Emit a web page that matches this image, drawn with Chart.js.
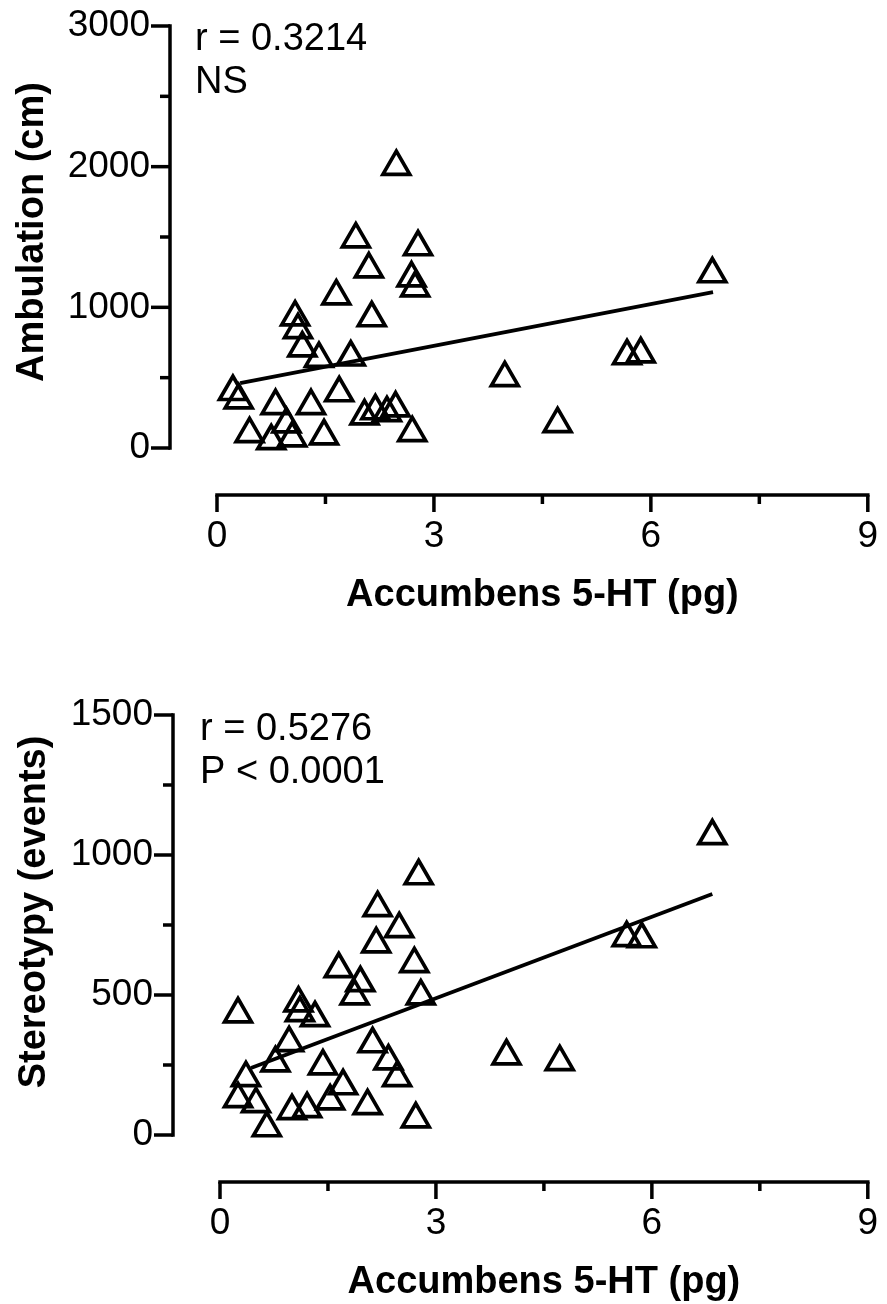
<!DOCTYPE html>
<html>
<head>
<meta charset="utf-8">
<script src="https://cdn.jsdelivr.net/npm/chart.js@4.4.0/dist/chart.umd.min.js"></script>
<style>
html, body { margin: 0; padding: 0; background: #fff; }
#wrap { position: relative; width: 887px; height: 1304px; }
.box { position: absolute; left: 0; width: 887px; }
#box1 { top: 0; height: 650px; }
#box2 { top: 650px; height: 654px; }
</style>
</head>
<body>
<div id="wrap">
  <div class="box" id="box1"><canvas id="chart1"></canvas></div>
  <div class="box" id="box2"><canvas id="chart2"></canvas></div>
</div>
<script>
// 5-HT (pg) vs ambulation (cm)
const ambX = [2.48, 1.92, 2.78, 2.10, 2.69, 2.74, 1.65, 2.14, 1.08, 1.12, 1.18, 1.41, 1.85, 0.22, 0.30, 0.81, 1.30,
              1.69, 2.04, 2.19, 2.35, 2.47, 2.70, 0.45, 0.75, 0.96, 1.04, 1.48, 3.98, 4.71, 5.67, 5.86, 6.85];
const ambY = [2000, 1485, 1429, 1272, 1208, 1137, 1080, 924, 930, 840, 710, 635, 645, 400, 340, 300, 300,
              391, 227, 263, 250, 284, 107, 100, 50, 170, 70, 85, 498, 171, 654, 668, 1237];
const ambFitX = [0.32, 6.86];
const ambFitY = [462, 1108];

// 5-HT (pg) vs stereotypy (events)
const sterX = [2.76, 2.19, 2.49, 2.17, 2.70, 1.65, 1.95, 1.87, 2.79, 0.25, 1.09, 1.11, 1.32, 0.96, 2.12, 0.77, 1.43,
               2.34, 2.46, 0.36, 1.71, 0.25, 0.50, 1.00, 1.21, 1.53, 2.05, 0.65, 2.72, 3.98, 4.72, 5.65, 5.86, 6.84];
const sterY = [925, 811, 736, 682, 611, 593, 543, 496, 496, 432, 471, 436, 418, 329, 325, 257, 246,
               264, 204, 204, 175, 129, 111, 86, 93, 121, 104, 25, 57, 282, 261, 704, 700, 1068];
const sterFitX = [0.43, 6.84];
const sterFitY = [239, 861];

// ticks
const xTicks = [0, 3, 6, 9];
const ambTicks = [0, 1000, 2000, 3000];
const sterTicks = [0, 500, 1000, 1500];

const xTitle = 'Accumbens 5-HT (pg)';
const ambTitle = 'Ambulation (cm)';
const sterTitle = 'Stereotypy (events)';
const ambNotes = ['r = 0.3214', 'NS'];
const sterNotes = ['r = 0.5276', 'P < 0.0001'];

const FONT = '"Liberation Sans", Arial, sans-serif';

// Prism style axes: detached spines, major+minor ticks
const prismAxes = {
  id: 'prismAxes',
  afterDraw(chart, args, o) {
    const ctx = chart.ctx;
    const xs = chart.scales.x, ys = chart.scales.y;
    ctx.save();
    ctx.strokeStyle = '#000';
    ctx.fillStyle = '#000';
    ctx.lineWidth = 3.5;

    // y spine
    const yT = o.yTicks;
    const yBot = ys.getPixelForValue(yT[0]);
    const yTop = ys.getPixelForValue(yT[yT.length - 1]);
    ctx.lineCap = 'square';
    ctx.beginPath();
    ctx.moveTo(o.ySpineX, yBot);
    ctx.lineTo(o.ySpineX, yTop);
    ctx.stroke();

    // x spine
    const xL = xs.getPixelForValue(xTicks[0]);
    const xR = xs.getPixelForValue(xTicks[xTicks.length - 1]);
    ctx.beginPath();
    ctx.moveTo(xL, o.xSpineY);
    ctx.lineTo(xR, o.xSpineY);
    ctx.stroke();

    ctx.lineCap = 'butt';
    // y ticks
    ctx.font = '37px ' + FONT;
    ctx.textAlign = 'right';
    ctx.textBaseline = 'middle';
    yT.forEach((v, i) => {
      const py = ys.getPixelForValue(v);
      ctx.beginPath();
      ctx.moveTo(o.ySpineX - 19, py);
      ctx.lineTo(o.ySpineX, py);
      ctx.stroke();
      ctx.fillText(String(v), o.ySpineX - 20, py);
      if (i < yT.length - 1) {
        const pm = ys.getPixelForValue((v + yT[i + 1]) / 2);
        ctx.beginPath();
        ctx.moveTo(o.ySpineX - 10, pm);
        ctx.lineTo(o.ySpineX, pm);
        ctx.stroke();
      }
    });

    // x ticks
    ctx.textAlign = 'center';
    xTicks.forEach((v, i) => {
      const px = xs.getPixelForValue(v);
      ctx.beginPath();
      ctx.moveTo(px, o.xSpineY);
      ctx.lineTo(px, o.xSpineY + 17);
      ctx.stroke();
      ctx.fillText(String(v), px, o.xSpineY + 42);
      if (i < xTicks.length - 1) {
        const pm = xs.getPixelForValue((v + xTicks[i + 1]) / 2);
        ctx.beginPath();
        ctx.moveTo(pm, o.xSpineY);
        ctx.lineTo(pm, o.xSpineY + 9);
        ctx.stroke();
      }
    });

    // axis titles
    ctx.font = 'bold 38px ' + FONT;
    ctx.textBaseline = 'middle';
    ctx.fillText(xTitle, (xL + xR) / 2, o.xSpineY + 101);
    ctx.save();
    ctx.translate(o.yTitleX, o.yTitleY);
    ctx.rotate(-Math.PI / 2);
    ctx.textBaseline = 'alphabetic';
    ctx.fillText(o.yTitle, 0, 0);
    ctx.restore();

    // r / P note
    ctx.font = '38px ' + FONT;
    ctx.textAlign = 'left';
    ctx.textBaseline = 'alphabetic';
    o.notes.forEach((t, i) => {
      ctx.fillText(t, o.noteX, o.noteY + i * 43);
    });
    ctx.restore();
  }
};

function makeChart(id, xs, ys, fx, fy, yMax, pad, axes) {
  return new Chart(document.getElementById(id), {
    type: 'scatter',
    data: {
      datasets: [{
        type: 'line',
        data: fx.map((x, i) => ({x: x, y: fy[i]})),
        borderColor: '#000',
        borderWidth: 3.8,
        pointRadius: 0,
        fill: false,
        clip: false
      }, {
        data: xs.map((x, i) => ({x: x, y: ys[i]})),
        pointStyle: 'triangle',
        pointRadius: 15.5,
        pointHoverRadius: 15.5,
        borderWidth: 3.7,
        borderColor: '#000',
        backgroundColor: 'rgba(0,0,0,0)',
        clip: false
      }]
    },
    options: {
      responsive: true,
      maintainAspectRatio: false,
      animation: false,
      events: [],
      layout: { padding: pad },
      plugins: {
        legend: { display: false },
        tooltip: { enabled: false },
        prismAxes: axes
      },
      scales: {
        x: { type: 'linear', min: 0, max: 9, display: false },
        y: { type: 'linear', min: 0, max: yMax, display: false }
      }
    },
    plugins: [prismAxes]
  });
}

makeChart('chart1', ambX, ambY, ambFitX, ambFitY, 3000,
  { left: 217, right: 14, top: 26, bottom: 202 },
  { yTicks: ambTicks, ySpineX: 170, xSpineY: 495, yTitle: ambTitle, yTitleX: 43, yTitleY: 232,
    notes: ambNotes, noteX: 195, noteY: 50 });

makeChart('chart2', sterX, sterY, sterFitX, sterFitY, 1500,
  { left: 220, right: 15, top: 65, bottom: 169 },
  { yTicks: sterTicks, ySpineX: 173, xSpineY: 532, yTitle: sterTitle, yTitleX: 45, yTitleY: 262,
    notes: sterNotes, noteX: 200, noteY: 90 });
</script>
</body>
</html>
